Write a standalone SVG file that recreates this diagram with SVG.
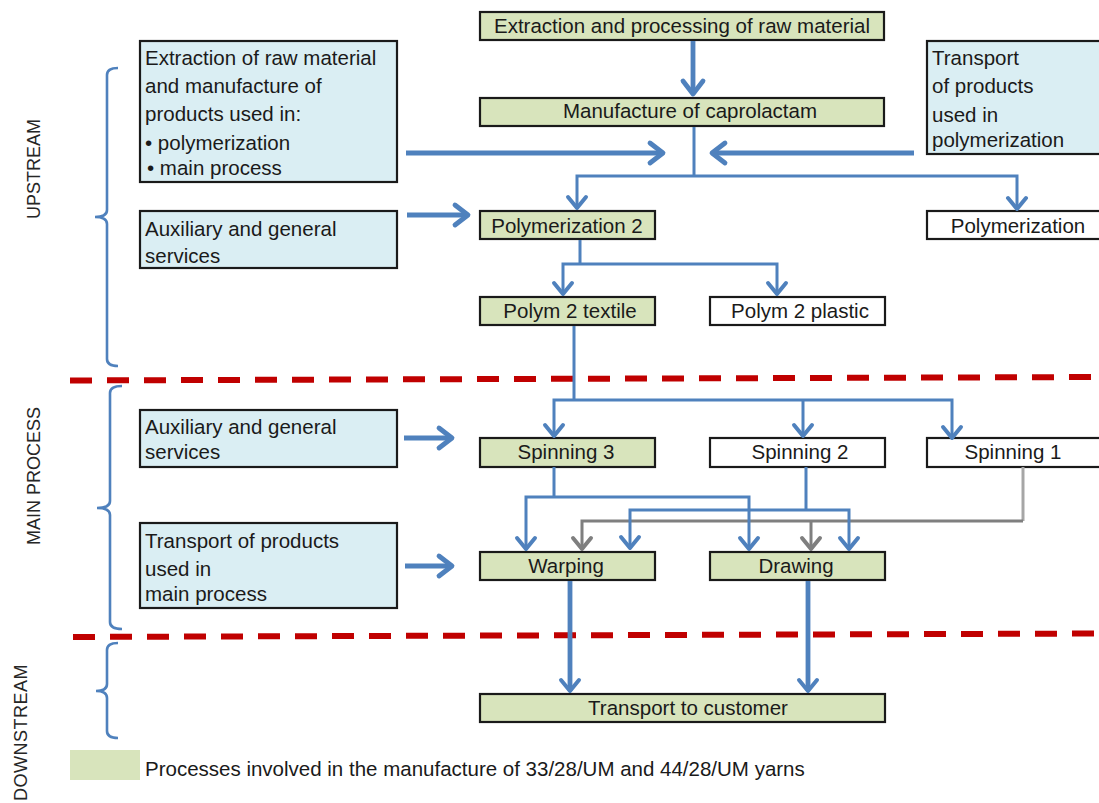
<svg xmlns="http://www.w3.org/2000/svg" width="1099" height="803" viewBox="0 0 1099 803">
<style>
.box{stroke:#1a1a1a;stroke-width:2.2}
.g{fill:#d8e4bc}
.b{fill:#daeef3}
.w{fill:#ffffff}
text{font-family:"Liberation Sans",Arial,sans-serif;font-size:20.5px;fill:#1a1a1a}
.c{text-anchor:middle}
.side{font-size:18px;fill:#262626}
.thin{fill:none;stroke:#4f81bd;stroke-width:3}
.thick{fill:none;stroke:#4f81bd;stroke-width:4.8}
.gray{fill:none;stroke:#7f7f7f;stroke-width:3}
.brace{fill:none;stroke:#4f81bd;stroke-width:2.6}
.sep{fill:none;stroke:#c00000;stroke-width:6;stroke-dasharray:22 15}
</style>
<defs>
<marker id="ab" markerUnits="userSpaceOnUse" orient="auto" overflow="visible" refX="0" refY="0" markerWidth="30" markerHeight="30">
<path d="M-11,-9 L0,0 L-11,9" fill="none" stroke="#4f81bd" stroke-width="4" stroke-linecap="round" stroke-linejoin="round"/>
</marker>
<marker id="abL" markerUnits="userSpaceOnUse" orient="auto" overflow="visible" refX="0" refY="0" markerWidth="30" markerHeight="30">
<path d="M-13,-10 L0,0 L-13,10" fill="none" stroke="#4f81bd" stroke-width="4.8" stroke-linecap="round" stroke-linejoin="round"/>
</marker>
<marker id="ag" markerUnits="userSpaceOnUse" orient="auto" overflow="visible" refX="0" refY="0" markerWidth="30" markerHeight="30">
<path d="M-11,-9 L0,0 L-11,9" fill="none" stroke="#7f7f7f" stroke-width="4" stroke-linecap="round" stroke-linejoin="round"/>
</marker>
</defs>
<rect width="1099" height="803" fill="#ffffff"/>

<g id="separators">
<path class="sep" d="M70,380.5 L1099,377"/>
<path class="sep" d="M73,637 L1099,633.5"/>
</g>

<g id="braces">
<path class="brace" d="M118,68 Q107,68 107,75 V210 Q107,217 95,217 Q107,217 107,224 V359 Q107,366 118,366"/>
<path class="brace" d="M122,386 Q110,386 110,393 V501 Q110,508 97,508 Q110,508 110,515 V622 Q110,629 122,629"/>
<path class="brace" d="M118,643 Q107,643 107,650 V684 Q107,691 96,691 Q107,691 107,698 V731 Q107,738 118,738"/>
</g>

<g id="section-labels">
<text class="side c" transform="translate(40,169) rotate(-90)">UPSTREAM</text>
<text class="side c" transform="translate(40,476) rotate(-90)">MAIN PROCESS</text>
<text class="side" style="letter-spacing:0.5px" transform="translate(27,801) rotate(-90)">DOWNSTREAM</text>
</g>

<g id="n-extraction-processing">
<rect class="box g" x="480" y="12" width="404" height="28"/>
<text class="c" x="682" y="33">Extraction and processing of raw material</text>
</g>
<g id="n-caprolactam">
<rect class="box g" x="480" y="98" width="404" height="28"/>
<text class="c" x="690" y="118">Manufacture of caprolactam</text>
</g>
<g id="n-extraction-upstream">
<rect class="box b" x="140" y="41" width="257" height="141"/>
<text x="145" y="65">Extraction of raw material</text>
<text x="145" y="93">and manufacture of</text>
<text x="145" y="121">products used in:</text>
<text x="145" y="150">• polymerization</text>
<text x="147" y="175">• main process</text>
</g>
<g id="n-transport-polymerization">
<rect class="box b" x="927" y="41" width="190" height="113"/>
<text x="932" y="65">Transport</text>
<text x="932" y="93">of products</text>
<text x="932" y="122">used in</text>
<text x="932" y="147">polymerization</text>
</g>
<g id="n-aux-upstream">
<rect class="box b" x="140" y="211" width="257" height="57"/>
<text x="145" y="236">Auxiliary and general</text>
<text x="145" y="263">services</text>
</g>
<g id="n-polymerization2">
<rect class="box g" x="480" y="211" width="175" height="28"/>
<text class="c" x="567" y="233">Polymerization 2</text>
</g>
<g id="n-polymerization">
<rect class="box w" x="927" y="211" width="190" height="28"/>
<text class="c" x="1018" y="233">Polymerization</text>
</g>
<g id="n-polym2-textile">
<rect class="box g" x="480" y="297" width="175" height="28"/>
<text class="c" x="570" y="318">Polym 2 textile</text>
</g>
<g id="n-polym2-plastic">
<rect class="box w" x="710" y="297" width="175" height="28"/>
<text class="c" x="800" y="318">Polym 2 plastic</text>
</g>
<g id="n-aux-main">
<rect class="box b" x="140" y="410" width="257" height="57"/>
<text x="145" y="434">Auxiliary and general</text>
<text x="145" y="459">services</text>
</g>
<g id="n-spinning3">
<rect class="box g" x="480" y="438" width="175" height="29"/>
<text class="c" x="566" y="459">Spinning 3</text>
</g>
<g id="n-spinning2">
<rect class="box w" x="710" y="438" width="175" height="29"/>
<text class="c" x="800" y="459">Spinning 2</text>
</g>
<g id="n-spinning1">
<rect class="box w" x="927" y="438" width="190" height="29"/>
<text class="c" x="1013" y="459">Spinning 1</text>
</g>
<g id="n-transport-main">
<rect class="box b" x="140" y="523" width="257" height="85"/>
<text x="145" y="548">Transport of products</text>
<text x="145" y="576">used in</text>
<text x="145" y="601">main process</text>
</g>
<g id="n-warping">
<rect class="box g" x="480" y="552" width="175" height="28"/>
<text class="c" x="566" y="573">Warping</text>
</g>
<g id="n-drawing">
<rect class="box g" x="710" y="552" width="175" height="28"/>
<text class="c" x="796" y="573">Drawing</text>
</g>
<g id="n-transport-customer">
<rect class="box g" x="480" y="694" width="405" height="28"/>
<text class="c" x="688" y="715">Transport to customer</text>
</g>

<g id="connectors">
<path class="thick" d="M693,41 V94" marker-end="url(#abL)"/>
<path class="thick" d="M406,153 H663" marker-end="url(#abL)"/>
<path class="thick" d="M914,153 H712" marker-end="url(#abL)"/>
<path class="thin" d="M694,127 V176"/>
<path class="thin" d="M694,176 H577 V208" marker-end="url(#ab)"/>
<path class="thin" d="M694,176 H1017 V209" marker-end="url(#ab)"/>
<path class="thick" d="M407,215 H468" marker-end="url(#abL)"/>
<path class="thin" d="M580,240 V264"/>
<path class="thin" d="M580,264 H563 V294" marker-end="url(#ab)"/>
<path class="thin" d="M580,264 H777 V294" marker-end="url(#ab)"/>
<path class="thin" d="M574,326 V400"/>
<path class="thin" d="M574,400 H554 V436" marker-end="url(#ab)"/>
<path class="thin" d="M574,400 H952 V438" marker-end="url(#ab)"/>
<path class="thin" d="M803,400 V436" marker-end="url(#ab)"/>
<path class="thick" d="M404,438 H452" marker-end="url(#abL)"/>
<path class="thick" d="M405,566 H452" marker-end="url(#abL)"/>
<path class="gray" d="M1023,467 V521" style="stroke:#a6a6a6"/>
<path class="gray" d="M1023,521 H582 V549" marker-end="url(#ag)"/>
<path class="gray" d="M811,521 V549" marker-end="url(#ag)"/>
<path class="thin" d="M554,467 V497"/>
<path class="thin" d="M554,497 H526 V549" marker-end="url(#ab)"/>
<path class="thin" d="M554,497 H749 V549" marker-end="url(#ab)"/>
<path class="thin" d="M806,467 V510"/>
<path class="thin" d="M806,510 H630 V548" marker-end="url(#ab)"/>
<path class="thin" d="M806,510 H849 V549" marker-end="url(#ab)"/>
<path class="thick" d="M570,581 V691" marker-end="url(#ab)"/>
<path class="thick" d="M808,581 V691" marker-end="url(#ab)"/>
</g>

<g id="legend">
<rect x="70" y="750" width="70" height="30" fill="#d8e4bc"/>
<text x="145" y="776">Processes involved in the manufacture of 33/28/UM and 44/28/UM yarns</text>
</g>
</svg>
